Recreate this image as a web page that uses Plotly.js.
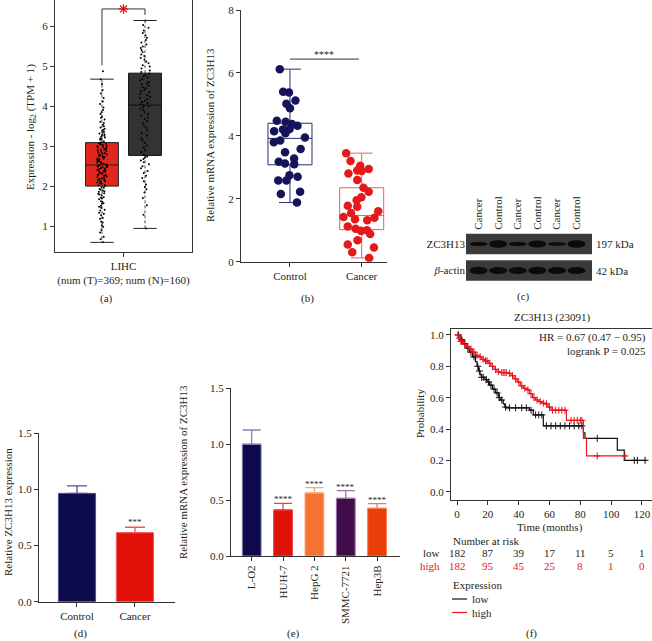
<!DOCTYPE html>
<html><head><meta charset="utf-8">
<script src="https://cdn.plot.ly/plotly-3.0.1.min.js"></script>
<style>html,body{margin:0;padding:0;background:#fff}#chart{width:652px;height:641px}</style>
</head><body><div id="chart"></div>
<script>
// ================= DATA =================
// (a) GEPIA box plot, LIHC
const aGroups = ['Tumor', 'Normal'];
const aQ1 = [2.0, 2.77];
const aMedian = [2.53, 4.03];
const aQ3 = [3.09, 4.83];
const aLow = [0.59, 0.94];
const aHigh = [4.68, 6.15];
const aTick = ['LIHC<br>(num (T)=369; num (N)=160)'];
const aTumorPts = [0.59,0.67,0.73,0.84,0.9,0.98,1.02,1.09,1.11,1.18,1.2,1.27,1.31,1.33,1.39,1.41,1.46,1.48,
  1.51,1.56,1.57,1.61,1.62,1.67,1.69,1.71,1.72,1.77,1.79,1.81,1.82,1.86,1.87,1.89,1.91,1.93,1.96,1.98,
  2.01,2.02,2.03,2.06,2.07,2.09,2.1,2.12,2.13,2.15,2.16,2.18,2.19,2.21,2.22,2.24,2.26,2.27,2.28,2.3,2.31,2.33,2.34,2.36,2.37,2.38,2.4,2.41,2.43,2.44,2.45,2.47,2.48,2.49,2.5,2.51,2.52,2.52,
  2.54,2.56,2.57,2.59,2.6,2.62,2.63,2.64,2.66,2.67,2.69,2.7,2.72,2.73,2.75,2.76,2.77,2.79,2.8,2.82,2.83,2.85,2.86,2.88,2.89,2.91,2.92,2.94,2.95,2.97,2.98,3.0,3.01,3.03,3.04,3.06,3.07,3.08,
  3.1,3.12,3.16,3.18,3.2,3.22,3.24,3.26,3.28,3.3,3.32,3.34,3.36,3.39,3.41,3.44,3.47,3.5,
  3.54,3.58,3.61,3.67,3.71,3.74,3.81,3.85,3.91,3.97,4.06,4.12,4.21,4.32,4.41,4.56,4.68,4.88];
const aNormalPts = [0.94,1.28,1.52,1.7,1.84,1.92,1.98,2.04,2.12,2.2,2.26,2.33,2.38,2.45,2.5,2.55,2.6,2.64,2.68,2.71,2.74,2.76,
  2.79,2.85,2.9,2.96,3.02,3.08,3.15,3.2,3.27,3.33,3.4,3.46,3.52,3.58,3.63,3.68,3.72,3.77,3.81,3.86,3.9,3.94,3.97,4.0,4.02,
  4.05,4.08,4.11,4.14,4.18,4.21,4.24,4.28,4.31,4.35,4.38,4.41,4.45,4.48,4.52,4.55,4.58,4.61,4.65,4.68,4.72,4.75,4.79,4.82,
  4.86,4.9,4.95,5.0,5.03,5.08,5.12,5.17,5.21,5.26,5.3,5.36,5.41,5.46,5.5,5.55,5.6,5.66,5.72,5.78,5.84,5.9,5.97,6.04,6.15];

// (b) qPCR tissue scatter
const bGroups = ['Control', 'Cancer'];
const bControl = [6.12,5.4,5.38,5.12,5.02,4.88,4.48,4.45,4.38,4.32,4.22,4.2,4.15,4.08,3.95,3.85,3.8,3.58,3.48,3.28,3.18,3.12,3.1,2.75,2.7,2.58,2.58,2.22,2.15,1.88];
const bCancer = [3.45,3.2,3.05,2.95,2.9,2.88,2.8,2.6,2.35,2.22,2.05,1.95,1.78,1.75,1.6,1.55,1.42,1.4,1.35,1.32,1.12,1.05,1.0,0.98,0.88,0.68,0.55,0.45,0.3,0.12];
const bQ1 = [3.08, 1.02];
const bMedian = [3.92, 1.47];
const bQ3 = [4.4, 2.35];
const bLow = [1.88, 0.12];
const bHigh = [6.12, 3.45];
const bSig = '****';

// (c) western blot
const cLanes = ['Cancer', 'Control', 'Cancer', 'Control', 'Cancer', 'Control'];
const cRows = ['<i>β</i>-actin', 'ZC3H13'];
const cSizes = ['42 kDa', '197 kDa'];
const cActin = [0.85, 0.8, 0.8, 0.85, 0.8, 0.8];
const cZC = [0.45, 0.85, 0.45, 0.8, 0.4, 0.85];

// (d) tissue western quantification
const dGroups = ['Control', 'Cancer'];
const dMean = [0.965, 0.615];
const dErr = [0.066, 0.048];
const dSig = ['', '***'];

// (e) cell lines
const eLines = ['L-O2', 'HUH-7', 'HepG 2', 'SMMC-7721', 'Hep3B'];
const eMean = [1.0, 0.412, 0.564, 0.516, 0.426];
const eErr = [0.127, 0.059, 0.047, 0.069, 0.042];
const eSig = ['', '****', '****', '****', '****'];

// (f) Kaplan-Meier
const fTitle = 'ZC3H13 (23091)';
const lowT = [0,2,4,6,8,10,12,13,14,15,16,18,20,21,23,25,27,28,30,31,32,47,49.5,56,82,83,104,108.5,123];
const lowS = [1,0.97,0.945,0.915,0.89,0.86,0.83,0.8,0.77,0.745,0.73,0.715,0.7,0.68,0.655,0.63,0.6,0.585,0.56,0.54,0.535,0.52,0.49,0.42,0.375,0.34,0.265,0.2,0.2];
const highT = [0,1,2,4,6,8,10,12,14,16,18,20,22,24,26,28,33,35,37,39,41,43,45,47,49,51,53,55,57,59,61,71,82,84,110];
const highS = [1,0.98,0.96,0.94,0.925,0.91,0.89,0.87,0.86,0.845,0.835,0.82,0.8,0.78,0.765,0.76,0.755,0.74,0.72,0.7,0.675,0.66,0.65,0.625,0.6,0.585,0.575,0.565,0.56,0.54,0.52,0.455,0.34,0.228,0.228];
const lowCens = [1,3,5,7,9,11,13.5,14.5,16,17,19,20.5,22,24,26,27.5,29,31.5,34,38,42,45,48,51,53,55,58,61,64,67,70,73,76,79,81,91,115,117,122];
const highCens = [0.5,1.5,2.5,3.5,5,7,9,11,13,15,17,18.5,19.5,21,23,25,27,29,30,31,32,34,36,38,40,42,44,46,48,50,52,54,56,58,60,62,64,66,68,70,74,76,78,80,81,91,109];
const riskTimes = [0,20,40,60,80,100,120];
const riskLow = [182,87,39,17,11,5,1];
const riskHigh = [182,95,45,25,8,1,0];
const hrText = 'HR = 0.67 (0.47 − 0.95)';
const pText = 'logrank P = 0.025';

// ================= BUILD =================
const W = 652, H = 641;
const px = v => v / W, py = v => 1 - v / H;
const FONT = 'Liberation Serif, DejaVu Serif, Times New Roman, serif';
const TXT = '#231f20';
const traces = [], shapes = [], ann = [];
const axBase = {showgrid:false, zeroline:false, ticks:'outside', ticklen:4, tickwidth:1, tickcolor:'#333',
  linecolor:'#333', linewidth:1, showline:true, tickfont:{size:11, color:TXT}};
function note(text, x, y, opt) {
  ann.push(Object.assign({text:text, xref:'paper', yref:'paper', x:px(x), y:py(y), showarrow:false,
    xanchor:'center', yanchor:'middle', font:{size:11, color:TXT}}, opt || {}));
}

// ---- (a) ----
const aPos = [0.343, 0.657];
const aFill = ['#e2261e', '#333333'];
const aEdge = ['#222', '#111'];
aGroups.forEach((g, i) => {
  traces.push({type:'box', xaxis:'x', yaxis:'y', x:[aPos[i]], q1:[aQ1[i]], median:[aMedian[i]], q3:[aQ3[i]],
    lowerfence:[aQ1[i]], upperfence:[aQ3[i]], width:0.24, whiskerwidth:0, boxpoints:false,
    fillcolor:aFill[i], line:{color:aEdge[i], width:1}, hoverinfo:'skip'});
  traces.push({type:'scatter', mode:'lines', xaxis:'x', yaxis:'y',
    x:[aPos[i], aPos[i], null, aPos[i], aPos[i]], y:[aQ3[i], aHigh[i], null, aQ1[i], aLow[i]],
    line:{color:'#222', width:0.8, dash:'3px,2px'}, hoverinfo:'skip'});
  traces.push({type:'scatter', mode:'lines', xaxis:'x', yaxis:'y',
    x:[aPos[i]-0.085, aPos[i]+0.085, null, aPos[i]-0.085, aPos[i]+0.085], y:[aHigh[i], aHigh[i], null, aLow[i], aLow[i]],
    line:{color:'#222', width:1}, hoverinfo:'skip'});
});
[aTumorPts, aNormalPts].forEach((pts, i) => {
  traces.push({type:'box', xaxis:'x', yaxis:'y', y:pts, x0:aPos[i], width:0.24, boxpoints:'all', jitter:0.34,
    pointpos:0, fillcolor:'rgba(0,0,0,0)', line:{width:0, color:'rgba(0,0,0,0)'}, whiskerwidth:0,
    marker:{size:2, color:'#000'}, hoverinfo:'skip'});
});
traces.push({type:'scatter', mode:'lines', xaxis:'x', yaxis:'y', x:[aPos[0], aPos[0], aPos[1], aPos[1]],
  y:[aHigh[0]+0.35, 6.44, 6.44, aHigh[1]+0.14], line:{color:'#333', width:1}, hoverinfo:'skip'});
traces.push({type:'scatter', mode:'markers', xaxis:'x', yaxis:'y', x:[0.5], y:[6.44],
  marker:{symbol:'asterisk-open', size:8, color:'#e8151b', line:{color:'#e8151b', width:1.3}}, hoverinfo:'skip'});

// ---- (b) ----
const bPts = [bControl, bCancer];
const bPtCol = ['#15145a', '#e41a1a'];
const bBoxCol = ['#2d2c74', '#f25a5a'];
bGroups.forEach((g, i) => {
  traces.push({type:'box', xaxis:'x2', yaxis:'y2', x:[i], q1:[bQ1[i]], median:[bMedian[i]], q3:[bQ3[i]],
    lowerfence:[bLow[i]], upperfence:[bHigh[i]], width:0.614, whiskerwidth:0.5, boxpoints:false,
    fillcolor:'rgba(0,0,0,0)', line:{color:bBoxCol[i], width:1}, hoverinfo:'skip'});
  traces.push({type:'box', xaxis:'x2', yaxis:'y2', y:bPts[i], x0:i, width:0.614, boxpoints:'all', jitter:0.95,
    pointpos:0, fillcolor:'rgba(0,0,0,0)', line:{width:0, color:'rgba(0,0,0,0)'}, whiskerwidth:0,
    marker:{size:8.5, color:bPtCol[i]}, hoverinfo:'skip'});
});
traces.push({type:'scatter', mode:'lines', xaxis:'x2', yaxis:'y2', x:[0, 0.96], y:[6.44, 6.44],
  line:{color:'#333', width:1}, hoverinfo:'skip'});
ann.push({text:bSig, xref:'x2', yref:'y2', x:0.48, y:6.44, xanchor:'center', yanchor:'bottom', yshift:-3, showarrow:false, font:{size:10, color:TXT}});

// ---- (c) ----
const cRowVals = [cActin, cZC];
cRowVals.forEach((vals, r) => {
  shapes.push({type:'rect', xref:'x3', yref:'y3', x0:-0.64, x1:5.79, y0:r-0.39, y1:r+0.39,
    fillcolor:'#3a3a3a', line:{width:0}, layer:'below'});
  vals.forEach((v, k) => {
    shapes.push({type:'circle', xref:'x3', yref:'y3', x0:k-0.46, x1:k+0.46, y0:r-v*0.17, y1:r+v*0.17,
      fillcolor:'#0b0b0b', line:{width:0}});
  });
  ann.push({text:cSizes[r], xref:'paper', yref:'y3', x:px(594), y:r, xanchor:'left', yanchor:'middle', showarrow:false, font:{size:11, color:TXT}});
});

// ---- (d) ----
const dCol = ['#0d0b4b', '#e2120b'];
const dErrCol = ['#50509a', '#f35555'];
dGroups.forEach((g, i) => {
  traces.push({type:'bar', xaxis:'x4', yaxis:'y4', x:[i], y:[dMean[i]], width:0.64,
    marker:{color:dCol[i], line:{color:dErrCol[i], width:1}},
    error_y:{type:'data', symmetric:false, array:[dErr[i]], arrayminus:[0], color:dErrCol[i], thickness:1.3, width:10},
    hoverinfo:'skip'});
  if (dSig[i]) ann.push({text:dSig[i], xref:'x4', yref:'y4', x:i, y:dMean[i]+dErr[i], xanchor:'center', yanchor:'bottom', yshift:-2,
    showarrow:false, font:{size:9, color:TXT}});
});

// ---- (e) ----
const eCol = ['#0c0a4c', '#dd1308', '#f47232', '#430d4b', '#eb3d08'];
const eErrCol = ['#8585b5', '#f24040', '#f9a77a', '#9a75a5', '#f47a52'];
eLines.forEach((g, i) => {
  traces.push({type:'bar', xaxis:'x5', yaxis:'y5', x:[i], y:[eMean[i]], width:0.6,
    marker:{color:eCol[i], line:{color:eErrCol[i], width:1}},
    error_y:{type:'data', symmetric:false, array:[eErr[i]], arrayminus:[0], color:eErrCol[i], thickness:1.3, width:9},
    hoverinfo:'skip'});
  if (eSig[i]) ann.push({text:eSig[i], xref:'x5', yref:'y5', x:i, y:eMean[i]+eErr[i], xanchor:'center', yanchor:'bottom', yshift:-3,
    showarrow:false, font:{size:9, color:TXT}});
});

// ---- (f) ----
function sAt(T, S, t) { let v = S[0]; for (let i = 0; i < T.length; i++) if (T[i] <= t) v = S[i]; return v; }
const kmCol = ['#111111', '#e8141b'];
[[lowT, lowS, lowCens], [highT, highS, highCens]].forEach((d, i) => {
  traces.push({type:'scatter', mode:'lines', xaxis:'x6', yaxis:'y6', x:d[0], y:d[1], line:{shape:'hv', color:kmCol[i], width:1.2}, hoverinfo:'skip'});
  traces.push({type:'scatter', mode:'markers', xaxis:'x6', yaxis:'y6', x:d[2], y:d[2].map(t => sAt(d[0], d[1], t)),
    marker:{symbol:'cross-thin-open', size:5, color:kmCol[i], line:{color:kmCol[i], width:1}}, hoverinfo:'skip'});
});
note(hrText, 648, 338, {xanchor:'right'});
note(pText, 648, 351, {xanchor:'right'});
note(fTitle, 552, 317);
note('Time (months)', 550, 527);
note('Number at risk', 451, 541, {xanchor:'left'});
note('low', 442, 553, {xanchor:'right'});
note('high', 442, 566, {xanchor:'right', font:{size:11, color:kmCol[1]}});
riskTimes.forEach((t, k) => {
  ann.push({text:String(riskLow[k]), xref:'x6', yref:'paper', x:t, y:py(553), xanchor:'center', yanchor:'middle', showarrow:false, font:{size:11, color:TXT}});
  ann.push({text:String(riskHigh[k]), xref:'x6', yref:'paper', x:t, y:py(566), xanchor:'center', yanchor:'middle', showarrow:false, font:{size:11, color:kmCol[1]}});
});
note('Expression', 451, 585, {xanchor:'left'});
['low', 'high'].forEach((s, i) => {
  shapes.push({type:'line', xref:'paper', yref:'paper', x0:px(452), x1:px(467), y0:py(599 + 13.5*i), y1:py(599 + 13.5*i),
    line:{color:kmCol[i], width:1.2}});
  note(s, 470, 599 + 13.5*i, {xanchor:'left'});
});

// ---- titles & panel letters ----
note('Expression - log<sub>2</sub> (TPM + 1)', 31, 127, {textangle:-90});
note('Relative mRNA expression of ZC3H13', 210, 135, {textangle:-90});
note('Relative ZC3H13 expression', 8, 512, {textangle:-90});
note('Relative mRNA expression of ZC3H13', 183, 472, {textangle:-90});
note('Probability', 420, 413, {textangle:-90});
note('(a)', 106, 298); note('(b)', 307, 298); note('(c)', 523, 297);
note('(d)', 80, 633); note('(e)', 293, 633); note('(f)', 531, 633);

const layout = {
  width:W, height:H, margin:{l:0, r:0, t:0, b:0}, paper_bgcolor:'#ffffff', plot_bgcolor:'rgba(0,0,0,0)',
  showlegend:false, boxmode:'overlay', barmode:'overlay',
  font:{family:FONT, size:11, color:TXT},
  xaxis: Object.assign({}, axBase, {domain:[px(55), px(192)], range:[0, 1], tickvals:[0.5], ticktext:aTick, anchor:'y'}),
  yaxis: Object.assign({}, axBase, {domain:[py(251.7), 1], range:[0.356, 6.664], tickvals:[1,2,3,4,5,6], mirror:true, anchor:'x'}),
  xaxis2: Object.assign({}, axBase, {domain:[px(241), px(387)], range:[-0.683, 1.353], tickvals:[0,1], ticktext:bGroups, anchor:'y2'}),
  yaxis2: Object.assign({}, axBase, {domain:[py(261.7), py(10)], range:[0, 8], dtick:2, anchor:'x2'}),
  xaxis3: Object.assign({}, axBase, {domain:[px(466), px(592)], range:[-0.64, 5.79], side:'top', tickvals:[0,1,2,3,4,5],
    ticktext:cLanes, tickangle:-90, ticks:'', showline:false, anchor:'y3'}),
  yaxis3: Object.assign({}, axBase, {domain:[py(283.75), py(230.75)], range:[-0.5, 1.5], tickvals:[0,1], ticktext:cRows,
    ticks:'', showline:false, anchor:'x3'}),
  xaxis4: Object.assign({}, axBase, {domain:[px(39), px(175)], range:[-0.655, 1.69], tickvals:[0,1], ticktext:dGroups, anchor:'y4'}),
  yaxis4: Object.assign({}, axBase, {domain:[py(601.7), py(433.3)], range:[0, 1.5], dtick:0.5, tickformat:'.1f', anchor:'x4'}),
  xaxis5: Object.assign({}, axBase, {domain:[px(231), px(400)], range:[-0.66, 4.73], tickvals:[0,1,2,3,4], ticktext:eLines, tickangle:-90, anchor:'y5'}),
  yaxis5: Object.assign({}, axBase, {domain:[py(556), py(388.3)], range:[0, 1.5], dtick:0.5, tickformat:'.1f', anchor:'x5'}),
  xaxis6: Object.assign({}, axBase, {domain:[px(451), 1], range:[-3.9, 126.5], tickvals:riskTimes, mirror:true, anchor:'y6'}),
  yaxis6: Object.assign({}, axBase, {domain:[py(500), py(329)], range:[-0.053, 1.038], dtick:0.2, tickformat:'.1f', mirror:true, anchor:'x6'}),
  shapes:shapes, annotations:ann
};
Plotly.newPlot('chart', traces, layout, {displayModeBar:false, staticPlot:true});
</script></body></html>
